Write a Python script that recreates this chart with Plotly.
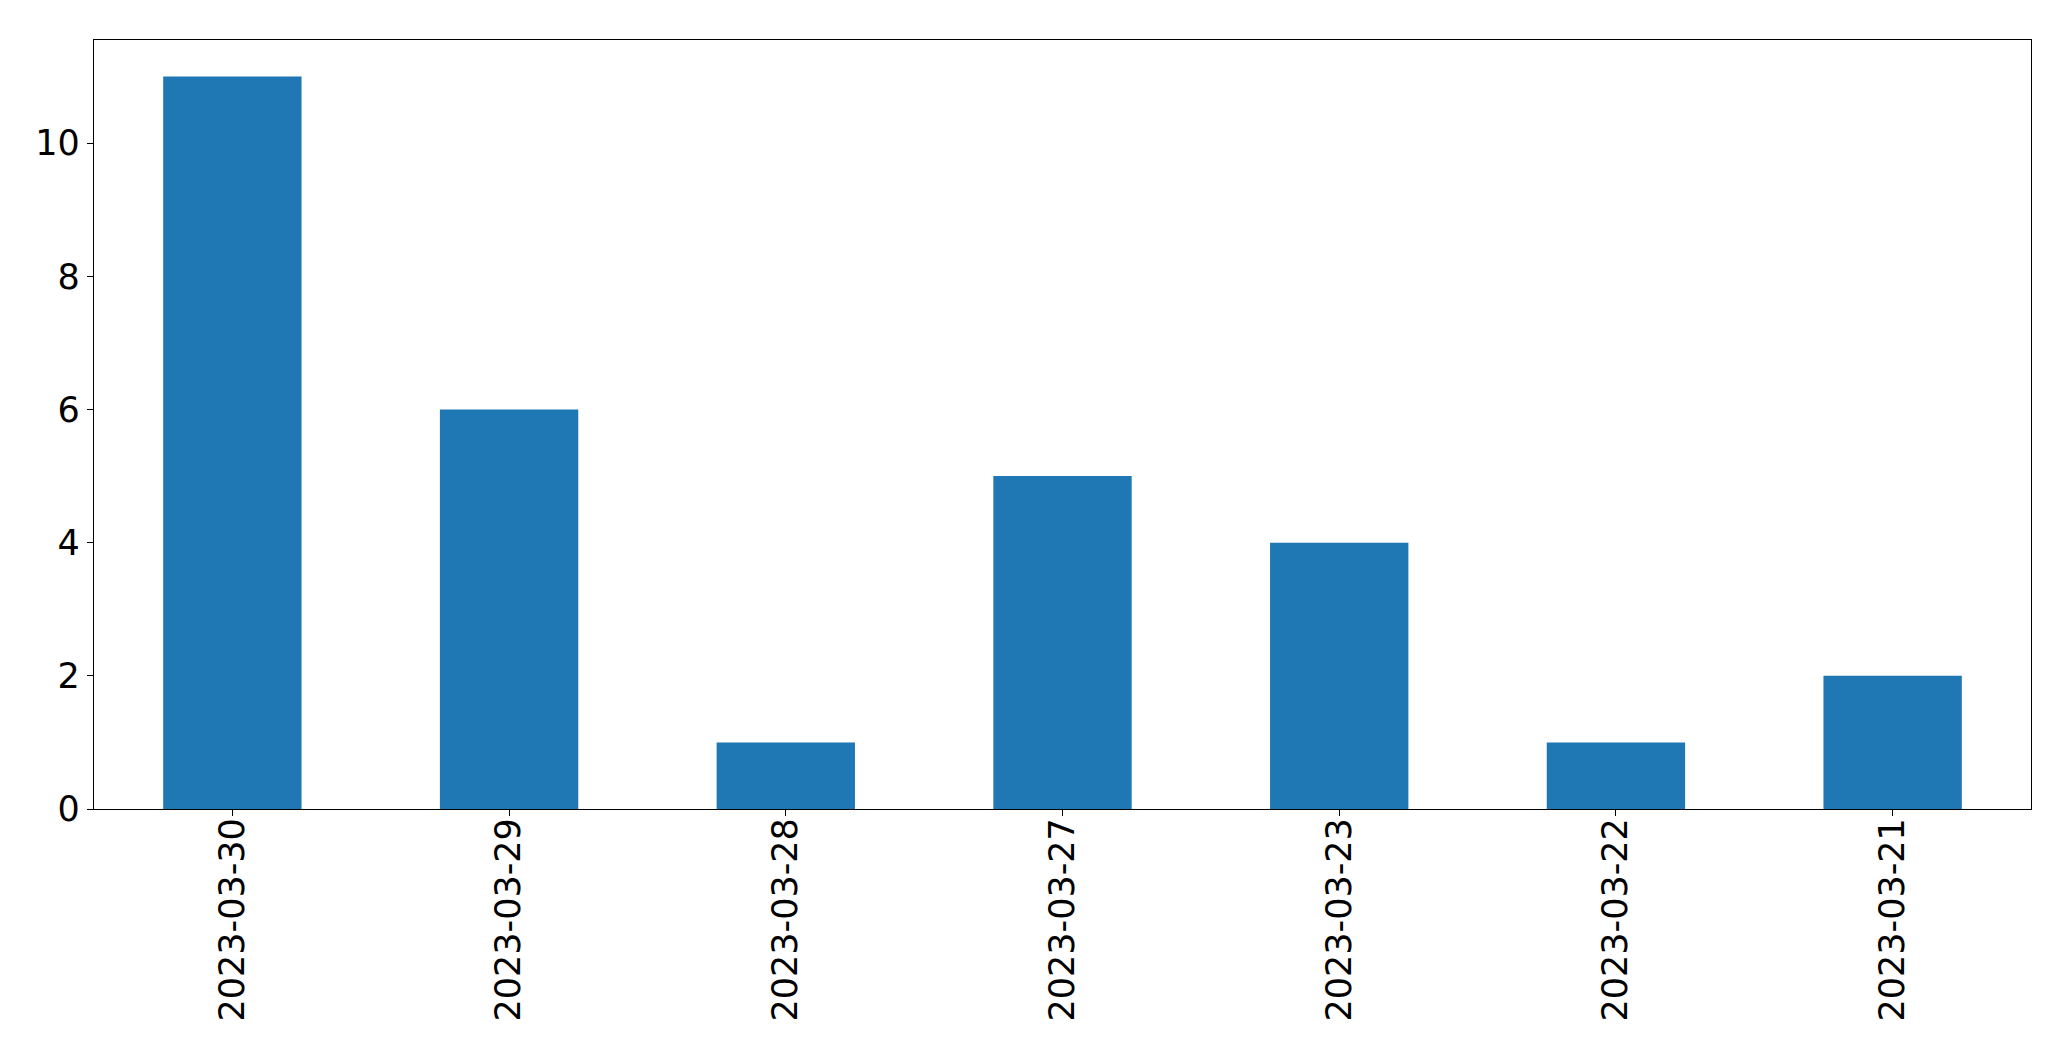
import plotly.graph_objects as go

dates = ["2023-03-30", "2023-03-29", "2023-03-28", "2023-03-27", "2023-03-23", "2023-03-22", "2023-03-21"]
counts = [11, 6, 1, 5, 4, 1, 2]
y_ticks = [0, 2, 4, 6, 8, 10]

fig = go.Figure(go.Bar(x=dates, y=counts, width=0.5, marker=dict(color="#1f77b4", line=dict(width=0))))

fig.update_layout(
    width=2063, height=1053, autosize=False,
    margin=dict(l=86, r=40, t=32, b=252),
    plot_bgcolor="white", paper_bgcolor="white",
    font=dict(family="DejaVu Sans", size=35, color="black"),
    showlegend=False,
)
fig.update_xaxes(
    type="category", range=[-0.5, 6.5], tickangle=-90, automargin=False,
    showline=True, linecolor="black", linewidth=1.3, mirror=True,
    ticks="outside", ticklen=6, tickwidth=1.3, tickcolor="black",
    showgrid=False, zeroline=False, tickfont=dict(size=35),
    ticklabelstandoff=-12,
)
fig.update_yaxes(
    range=[0, 11.55], tickvals=y_ticks, automargin=False,
    showline=True, linecolor="black", linewidth=1.3, mirror=True,
    ticks="outside", ticklen=6, tickwidth=1.3, tickcolor="black",
    showgrid=False, zeroline=False, tickfont=dict(size=35),
)
fig.write_html("out.html")
